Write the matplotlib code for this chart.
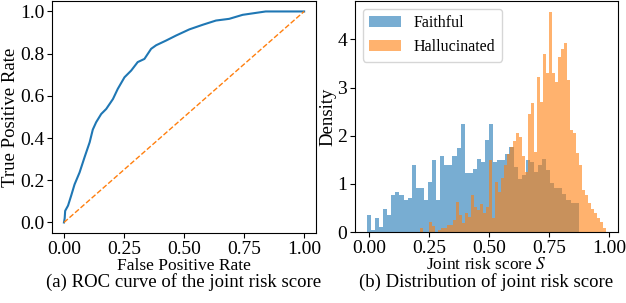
import matplotlib
matplotlib.use("Agg")
import matplotlib.pyplot as plt
import numpy as np

plt.rcParams['font.family'] = ['Liberation Serif', 'DejaVu Serif']
plt.rcParams['mathtext.fontset'] = 'stix'

# ROC curve of the joint risk score
fpr = [0.0, 0.003, 0.005, 0.017, 0.03, 0.044, 0.065, 0.086, 0.107, 0.12, 0.134,
       0.155, 0.176, 0.204, 0.224, 0.252, 0.28, 0.307, 0.335, 0.363, 0.384,
       0.425, 0.467, 0.522, 0.578, 0.633, 0.688, 0.744, 0.84, 1.0]
tpr = [0.0, 0.02, 0.055, 0.08, 0.127, 0.18, 0.237, 0.31, 0.38, 0.44, 0.475,
       0.514, 0.538, 0.585, 0.633, 0.688, 0.72, 0.76, 0.775, 0.823, 0.84,
       0.862, 0.886, 0.915, 0.937, 0.957, 0.965, 0.984, 1.0, 1.0]

# histogram of the joint risk score S (density per bin)
faithful_start = -0.01
faithful_width = 0.017
faithful_density = [0.36, 0.05, 0.29, 0.10, 0.48, 0.36, 0.77, 0.84, 0.77, 0.67,
                    0.70, 1.39, 0.91, 0.91, 0.67, 1.05, 1.50, 0.67, 1.57, 1.39,
                    1.39, 1.57, 1.74, 2.24, 1.22, 1.22, 1.32, 1.51, 1.46, 1.92,
                    2.24, 1.46, 1.50, 1.50, 1.62, 1.77, 1.35, 1.10, 1.18, 1.49,
                    1.46, 1.25, 1.39, 1.51, 1.28, 1.01, 0.91, 0.91, 0.80, 0.66,
                    0.60, 0.60]

halluc_start = 0.2125
halluc_width = 0.0125
halluc_density = [0.08, 0.0, 0.0, 0.21, 0.12, 0.0, 0.04, 0.08, 0.08, 0.14,
                  0.14, 0.25, 0.63, 0.35, 0.18, 0.40, 0.31, 0.77, 0.52, 0.45,
                  0.58, 0.40, 0.52, 1.50, 0.30, 1.04, 0.84, 1.12, 1.40, 1.63,
                  1.77, 1.90, 2.05, 1.98, 1.57, 1.24, 2.46, 2.67, 1.66, 3.22,
                  2.70, 3.70, 3.30, 4.57, 3.30, 3.12, 3.63, 3.81, 3.92, 3.15,
                  2.11, 2.05, 1.64, 1.39, 0.87, 0.76, 0.60, 0.47, 0.39, 0.29,
                  0.20, 0.08]

fig = plt.figure(figsize=(6.26, 3.03), dpi=100)
ax1 = fig.add_axes([0.083, 0.231, 0.422, 0.766])
ax2 = fig.add_axes([0.567, 0.234, 0.420, 0.763])

# (a) ROC
ax1.plot(fpr, tpr, color='tab:blue', linewidth=1.5)
ax1.plot([0, 1], [0, 1], color='tab:orange', linestyle='--', linewidth=1)
ax1.set_xlabel("False Positive Rate", fontsize=12.5, labelpad=0)
ax1.set_ylabel("True Positive Rate", fontsize=13.5, labelpad=1)
ax1.set_xticks([0, 0.25, 0.5, 0.75, 1.0])
ax1.set_yticks([0, 0.2, 0.4, 0.6, 0.8, 1.0])
ax1.tick_params(labelsize=14, pad=2)

# (b) distributions
f_edges = faithful_start + faithful_width * np.arange(len(faithful_density) + 1)
h_edges = halluc_start + halluc_width * np.arange(len(halluc_density) + 1)
ax2.hist(f_edges[:-1], bins=f_edges, weights=faithful_density,
         color='tab:blue', alpha=0.6, label='Faithful')
ax2.hist(h_edges[:-1], bins=h_edges, weights=halluc_density,
         color='tab:orange', alpha=0.6, label='Hallucinated')
ax2.set_xlabel("Joint risk score $S$", fontsize=12.5, labelpad=0)
ax2.set_ylabel("Density", fontsize=13.5, labelpad=1)
ax2.set_xticks([0, 0.25, 0.5, 0.75, 1.0])
ax2.set_yticks([0, 1, 2, 3, 4])
ax2.tick_params(labelsize=14, pad=2)
ax2.legend(loc='upper left', fontsize=11.5)

fig.text(0.294, 0.053, "(a) ROC curve of the joint risk score", ha='center',
         va='baseline', fontsize=13.5)
fig.text(0.777, 0.053, "(b) Distribution of joint risk score", ha='center',
         va='baseline', fontsize=13.5)

fig.savefig("out.png", dpi=100)
